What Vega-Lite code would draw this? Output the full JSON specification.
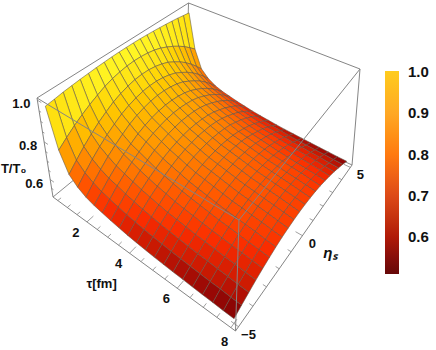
{"$schema":"https://vega.github.io/schema/vega-lite/v6.json","width":436,"height":350,"autosize":"none","padding":0,"background":"white","view":{"stroke":null},"config":{"text":{"font":"Liberation Sans","fontWeight":"bold","fontSize":13,"color":"#111"}},
"data":{"values":[
{"tau":0.4,"eta":5,"T":0.97},{"tau":0.4,"eta":4.5,"T":0.975},{"tau":0.4,"eta":4,"T":0.981},{"tau":0.4,"eta":3.5,"T":0.985},{"tau":0.4,"eta":3,"T":0.989},{"tau":0.4,"eta":2.5,"T":0.992},{"tau":0.4,"eta":2,"T":0.995},{"tau":0.4,"eta":1.5,"T":0.997},{"tau":0.4,"eta":1,"T":0.999},{"tau":0.4,"eta":0.5,"T":1},{"tau":0.4,"eta":0,"T":1},{"tau":0.4,"eta":-0.5,"T":1},{"tau":0.4,"eta":-1,"T":0.999},{"tau":0.4,"eta":-1.5,"T":0.997},{"tau":0.4,"eta":-2,"T":0.995},{"tau":0.4,"eta":-2.5,"T":0.992},{"tau":0.4,"eta":-3,"T":0.989},{"tau":0.4,"eta":-3.5,"T":0.985},{"tau":0.4,"eta":-4,"T":0.981},{"tau":0.4,"eta":-4.5,"T":0.975},{"tau":0.4,"eta":-5,"T":0.97},
{"tau":0.78,"eta":5,"T":0.78},{"tau":0.78,"eta":4.5,"T":0.811},{"tau":0.78,"eta":4,"T":0.84},{"tau":0.78,"eta":3.5,"T":0.865},{"tau":0.78,"eta":3,"T":0.887},{"tau":0.78,"eta":2.5,"T":0.906},{"tau":0.78,"eta":2,"T":0.923},{"tau":0.78,"eta":1.5,"T":0.935},{"tau":0.78,"eta":1,"T":0.943},{"tau":0.78,"eta":0.5,"T":0.948},{"tau":0.78,"eta":0,"T":0.95},{"tau":0.78,"eta":-0.5,"T":0.948},{"tau":0.78,"eta":-1,"T":0.943},{"tau":0.78,"eta":-1.5,"T":0.935},{"tau":0.78,"eta":-2,"T":0.923},{"tau":0.78,"eta":-2.5,"T":0.906},{"tau":0.78,"eta":-3,"T":0.887},{"tau":0.78,"eta":-3.5,"T":0.865},{"tau":0.78,"eta":-4,"T":0.84},{"tau":0.78,"eta":-4.5,"T":0.811},{"tau":0.78,"eta":-5,"T":0.78},
{"tau":1.16,"eta":5,"T":0.68},{"tau":1.16,"eta":4.5,"T":0.72},{"tau":1.16,"eta":4,"T":0.757},{"tau":1.16,"eta":3.5,"T":0.79},{"tau":1.16,"eta":3,"T":0.819},{"tau":1.16,"eta":2.5,"T":0.843},{"tau":1.16,"eta":2,"T":0.865},{"tau":1.16,"eta":1.5,"T":0.88},{"tau":1.16,"eta":1,"T":0.891},{"tau":1.16,"eta":0.5,"T":0.898},{"tau":1.16,"eta":0,"T":0.9},{"tau":1.16,"eta":-0.5,"T":0.898},{"tau":1.16,"eta":-1,"T":0.891},{"tau":1.16,"eta":-1.5,"T":0.88},{"tau":1.16,"eta":-2,"T":0.865},{"tau":1.16,"eta":-2.5,"T":0.843},{"tau":1.16,"eta":-3,"T":0.819},{"tau":1.16,"eta":-3.5,"T":0.79},{"tau":1.16,"eta":-4,"T":0.757},{"tau":1.16,"eta":-4.5,"T":0.72},{"tau":1.16,"eta":-5,"T":0.68},
{"tau":1.54,"eta":5,"T":0.64},{"tau":1.54,"eta":4.5,"T":0.68},{"tau":1.54,"eta":4,"T":0.717},{"tau":1.54,"eta":3.5,"T":0.75},{"tau":1.54,"eta":3,"T":0.779},{"tau":1.54,"eta":2.5,"T":0.803},{"tau":1.54,"eta":2,"T":0.825},{"tau":1.54,"eta":1.5,"T":0.84},{"tau":1.54,"eta":1,"T":0.851},{"tau":1.54,"eta":0.5,"T":0.858},{"tau":1.54,"eta":0,"T":0.86},{"tau":1.54,"eta":-0.5,"T":0.858},{"tau":1.54,"eta":-1,"T":0.851},{"tau":1.54,"eta":-1.5,"T":0.84},{"tau":1.54,"eta":-2,"T":0.825},{"tau":1.54,"eta":-2.5,"T":0.803},{"tau":1.54,"eta":-3,"T":0.779},{"tau":1.54,"eta":-3.5,"T":0.75},{"tau":1.54,"eta":-4,"T":0.717},{"tau":1.54,"eta":-4.5,"T":0.68},{"tau":1.54,"eta":-5,"T":0.64},
{"tau":1.92,"eta":5,"T":0.615},{"tau":1.92,"eta":4.5,"T":0.654},{"tau":1.92,"eta":4,"T":0.69},{"tau":1.92,"eta":3.5,"T":0.723},{"tau":1.92,"eta":3,"T":0.75},{"tau":1.92,"eta":2.5,"T":0.774},{"tau":1.92,"eta":2,"T":0.796},{"tau":1.92,"eta":1.5,"T":0.811},{"tau":1.92,"eta":1,"T":0.821},{"tau":1.92,"eta":0.5,"T":0.828},{"tau":1.92,"eta":0,"T":0.83},{"tau":1.92,"eta":-0.5,"T":0.828},{"tau":1.92,"eta":-1,"T":0.821},{"tau":1.92,"eta":-1.5,"T":0.811},{"tau":1.92,"eta":-2,"T":0.796},{"tau":1.92,"eta":-2.5,"T":0.774},{"tau":1.92,"eta":-3,"T":0.75},{"tau":1.92,"eta":-3.5,"T":0.723},{"tau":1.92,"eta":-4,"T":0.69},{"tau":1.92,"eta":-4.5,"T":0.654},{"tau":1.92,"eta":-5,"T":0.615},
{"tau":2.3,"eta":5,"T":0.6},{"tau":2.3,"eta":4.5,"T":0.636},{"tau":2.3,"eta":4,"T":0.67},{"tau":2.3,"eta":3.5,"T":0.7},{"tau":2.3,"eta":3,"T":0.726},{"tau":2.3,"eta":2.5,"T":0.748},{"tau":2.3,"eta":2,"T":0.768},{"tau":2.3,"eta":1.5,"T":0.782},{"tau":2.3,"eta":1,"T":0.792},{"tau":2.3,"eta":0.5,"T":0.798},{"tau":2.3,"eta":0,"T":0.8},{"tau":2.3,"eta":-0.5,"T":0.798},{"tau":2.3,"eta":-1,"T":0.792},{"tau":2.3,"eta":-1.5,"T":0.782},{"tau":2.3,"eta":-2,"T":0.768},{"tau":2.3,"eta":-2.5,"T":0.748},{"tau":2.3,"eta":-3,"T":0.726},{"tau":2.3,"eta":-3.5,"T":0.7},{"tau":2.3,"eta":-4,"T":0.67},{"tau":2.3,"eta":-4.5,"T":0.636},{"tau":2.3,"eta":-5,"T":0.6},
{"tau":2.68,"eta":5,"T":0.59},{"tau":2.68,"eta":4.5,"T":0.624},{"tau":2.68,"eta":4,"T":0.657},{"tau":2.68,"eta":3.5,"T":0.685},{"tau":2.68,"eta":3,"T":0.71},{"tau":2.68,"eta":2.5,"T":0.731},{"tau":2.68,"eta":2,"T":0.75},{"tau":2.68,"eta":1.5,"T":0.763},{"tau":2.68,"eta":1,"T":0.772},{"tau":2.68,"eta":0.5,"T":0.778},{"tau":2.68,"eta":0,"T":0.78},{"tau":2.68,"eta":-0.5,"T":0.778},{"tau":2.68,"eta":-1,"T":0.772},{"tau":2.68,"eta":-1.5,"T":0.763},{"tau":2.68,"eta":-2,"T":0.75},{"tau":2.68,"eta":-2.5,"T":0.731},{"tau":2.68,"eta":-3,"T":0.71},{"tau":2.68,"eta":-3.5,"T":0.685},{"tau":2.68,"eta":-4,"T":0.657},{"tau":2.68,"eta":-4.5,"T":0.624},{"tau":2.68,"eta":-5,"T":0.59},
{"tau":3.06,"eta":5,"T":0.58},{"tau":3.06,"eta":4.5,"T":0.612},{"tau":3.06,"eta":4,"T":0.643},{"tau":3.06,"eta":3.5,"T":0.67},{"tau":3.06,"eta":3,"T":0.693},{"tau":3.06,"eta":2.5,"T":0.713},{"tau":3.06,"eta":2,"T":0.731},{"tau":3.06,"eta":1.5,"T":0.744},{"tau":3.06,"eta":1,"T":0.753},{"tau":3.06,"eta":0.5,"T":0.758},{"tau":3.06,"eta":0,"T":0.76},{"tau":3.06,"eta":-0.5,"T":0.758},{"tau":3.06,"eta":-1,"T":0.753},{"tau":3.06,"eta":-1.5,"T":0.744},{"tau":3.06,"eta":-2,"T":0.731},{"tau":3.06,"eta":-2.5,"T":0.713},{"tau":3.06,"eta":-3,"T":0.693},{"tau":3.06,"eta":-3.5,"T":0.67},{"tau":3.06,"eta":-4,"T":0.643},{"tau":3.06,"eta":-4.5,"T":0.612},{"tau":3.06,"eta":-5,"T":0.58},
{"tau":3.44,"eta":5,"T":0.572},{"tau":3.44,"eta":4.5,"T":0.602},{"tau":3.44,"eta":4,"T":0.631},{"tau":3.44,"eta":3.5,"T":0.656},{"tau":3.44,"eta":3,"T":0.678},{"tau":3.44,"eta":2.5,"T":0.696},{"tau":3.44,"eta":2,"T":0.713},{"tau":3.44,"eta":1.5,"T":0.725},{"tau":3.44,"eta":1,"T":0.733},{"tau":3.44,"eta":0.5,"T":0.738},{"tau":3.44,"eta":0,"T":0.74},{"tau":3.44,"eta":-0.5,"T":0.738},{"tau":3.44,"eta":-1,"T":0.733},{"tau":3.44,"eta":-1.5,"T":0.725},{"tau":3.44,"eta":-2,"T":0.713},{"tau":3.44,"eta":-2.5,"T":0.696},{"tau":3.44,"eta":-3,"T":0.678},{"tau":3.44,"eta":-3.5,"T":0.656},{"tau":3.44,"eta":-4,"T":0.631},{"tau":3.44,"eta":-4.5,"T":0.602},{"tau":3.44,"eta":-5,"T":0.572},
{"tau":3.82,"eta":5,"T":0.564},{"tau":3.82,"eta":4.5,"T":0.593},{"tau":3.82,"eta":4,"T":0.62},{"tau":3.82,"eta":3.5,"T":0.645},{"tau":3.82,"eta":3,"T":0.665},{"tau":3.82,"eta":2.5,"T":0.683},{"tau":3.82,"eta":2,"T":0.699},{"tau":3.82,"eta":1.5,"T":0.711},{"tau":3.82,"eta":1,"T":0.719},{"tau":3.82,"eta":0.5,"T":0.723},{"tau":3.82,"eta":0,"T":0.725},{"tau":3.82,"eta":-0.5,"T":0.723},{"tau":3.82,"eta":-1,"T":0.719},{"tau":3.82,"eta":-1.5,"T":0.711},{"tau":3.82,"eta":-2,"T":0.699},{"tau":3.82,"eta":-2.5,"T":0.683},{"tau":3.82,"eta":-3,"T":0.665},{"tau":3.82,"eta":-3.5,"T":0.645},{"tau":3.82,"eta":-4,"T":0.62},{"tau":3.82,"eta":-4.5,"T":0.593},{"tau":3.82,"eta":-5,"T":0.564},
{"tau":4.2,"eta":5,"T":0.558},{"tau":4.2,"eta":4.5,"T":0.585},{"tau":4.2,"eta":4,"T":0.611},{"tau":4.2,"eta":3.5,"T":0.634},{"tau":4.2,"eta":3,"T":0.654},{"tau":4.2,"eta":2.5,"T":0.67},{"tau":4.2,"eta":2,"T":0.686},{"tau":4.2,"eta":1.5,"T":0.696},{"tau":4.2,"eta":1,"T":0.704},{"tau":4.2,"eta":0.5,"T":0.708},{"tau":4.2,"eta":0,"T":0.71},{"tau":4.2,"eta":-0.5,"T":0.708},{"tau":4.2,"eta":-1,"T":0.704},{"tau":4.2,"eta":-1.5,"T":0.696},{"tau":4.2,"eta":-2,"T":0.686},{"tau":4.2,"eta":-2.5,"T":0.67},{"tau":4.2,"eta":-3,"T":0.654},{"tau":4.2,"eta":-3.5,"T":0.634},{"tau":4.2,"eta":-4,"T":0.611},{"tau":4.2,"eta":-4.5,"T":0.585},{"tau":4.2,"eta":-5,"T":0.558},
{"tau":4.58,"eta":5,"T":0.553},{"tau":4.58,"eta":4.5,"T":0.579},{"tau":4.58,"eta":4,"T":0.603},{"tau":4.58,"eta":3.5,"T":0.624},{"tau":4.58,"eta":3,"T":0.642},{"tau":4.58,"eta":2.5,"T":0.658},{"tau":4.58,"eta":2,"T":0.672},{"tau":4.58,"eta":1.5,"T":0.682},{"tau":4.58,"eta":1,"T":0.689},{"tau":4.58,"eta":0.5,"T":0.694},{"tau":4.58,"eta":0,"T":0.695},{"tau":4.58,"eta":-0.5,"T":0.694},{"tau":4.58,"eta":-1,"T":0.689},{"tau":4.58,"eta":-1.5,"T":0.682},{"tau":4.58,"eta":-2,"T":0.672},{"tau":4.58,"eta":-2.5,"T":0.658},{"tau":4.58,"eta":-3,"T":0.642},{"tau":4.58,"eta":-3.5,"T":0.624},{"tau":4.58,"eta":-4,"T":0.603},{"tau":4.58,"eta":-4.5,"T":0.579},{"tau":4.58,"eta":-5,"T":0.553},
{"tau":4.96,"eta":5,"T":0.548},{"tau":4.96,"eta":4.5,"T":0.573},{"tau":4.96,"eta":4,"T":0.596},{"tau":4.96,"eta":3.5,"T":0.617},{"tau":4.96,"eta":3,"T":0.634},{"tau":4.96,"eta":2.5,"T":0.649},{"tau":4.96,"eta":2,"T":0.663},{"tau":4.96,"eta":1.5,"T":0.673},{"tau":4.96,"eta":1,"T":0.68},{"tau":4.96,"eta":0.5,"T":0.684},{"tau":4.96,"eta":0,"T":0.685},{"tau":4.96,"eta":-0.5,"T":0.684},{"tau":4.96,"eta":-1,"T":0.68},{"tau":4.96,"eta":-1.5,"T":0.673},{"tau":4.96,"eta":-2,"T":0.663},{"tau":4.96,"eta":-2.5,"T":0.649},{"tau":4.96,"eta":-3,"T":0.634},{"tau":4.96,"eta":-3.5,"T":0.617},{"tau":4.96,"eta":-4,"T":0.596},{"tau":4.96,"eta":-4.5,"T":0.573},{"tau":4.96,"eta":-5,"T":0.548},
{"tau":5.34,"eta":5,"T":0.544},{"tau":5.34,"eta":4.5,"T":0.568},{"tau":5.34,"eta":4,"T":0.59},{"tau":5.34,"eta":3.5,"T":0.61},{"tau":5.34,"eta":3,"T":0.627},{"tau":5.34,"eta":2.5,"T":0.641},{"tau":5.34,"eta":2,"T":0.654},{"tau":5.34,"eta":1.5,"T":0.663},{"tau":5.34,"eta":1,"T":0.67},{"tau":5.34,"eta":0.5,"T":0.674},{"tau":5.34,"eta":0,"T":0.675},{"tau":5.34,"eta":-0.5,"T":0.674},{"tau":5.34,"eta":-1,"T":0.67},{"tau":5.34,"eta":-1.5,"T":0.663},{"tau":5.34,"eta":-2,"T":0.654},{"tau":5.34,"eta":-2.5,"T":0.641},{"tau":5.34,"eta":-3,"T":0.627},{"tau":5.34,"eta":-3.5,"T":0.61},{"tau":5.34,"eta":-4,"T":0.59},{"tau":5.34,"eta":-4.5,"T":0.568},{"tau":5.34,"eta":-5,"T":0.544},
{"tau":5.72,"eta":5,"T":0.541},{"tau":5.72,"eta":4.5,"T":0.563},{"tau":5.72,"eta":4,"T":0.584},{"tau":5.72,"eta":3.5,"T":0.603},{"tau":5.72,"eta":3,"T":0.619},{"tau":5.72,"eta":2.5,"T":0.633},{"tau":5.72,"eta":2,"T":0.645},{"tau":5.72,"eta":1.5,"T":0.654},{"tau":5.72,"eta":1,"T":0.66},{"tau":5.72,"eta":0.5,"T":0.664},{"tau":5.72,"eta":0,"T":0.665},{"tau":5.72,"eta":-0.5,"T":0.664},{"tau":5.72,"eta":-1,"T":0.66},{"tau":5.72,"eta":-1.5,"T":0.654},{"tau":5.72,"eta":-2,"T":0.645},{"tau":5.72,"eta":-2.5,"T":0.633},{"tau":5.72,"eta":-3,"T":0.619},{"tau":5.72,"eta":-3.5,"T":0.603},{"tau":5.72,"eta":-4,"T":0.584},{"tau":5.72,"eta":-4.5,"T":0.563},{"tau":5.72,"eta":-5,"T":0.541},
{"tau":6.1,"eta":5,"T":0.538},{"tau":6.1,"eta":4.5,"T":0.559},{"tau":6.1,"eta":4,"T":0.579},{"tau":6.1,"eta":3.5,"T":0.597},{"tau":6.1,"eta":3,"T":0.612},{"tau":6.1,"eta":2.5,"T":0.625},{"tau":6.1,"eta":2,"T":0.636},{"tau":6.1,"eta":1.5,"T":0.644},{"tau":6.1,"eta":1,"T":0.65},{"tau":6.1,"eta":0.5,"T":0.654},{"tau":6.1,"eta":0,"T":0.655},{"tau":6.1,"eta":-0.5,"T":0.654},{"tau":6.1,"eta":-1,"T":0.65},{"tau":6.1,"eta":-1.5,"T":0.644},{"tau":6.1,"eta":-2,"T":0.636},{"tau":6.1,"eta":-2.5,"T":0.625},{"tau":6.1,"eta":-3,"T":0.612},{"tau":6.1,"eta":-3.5,"T":0.597},{"tau":6.1,"eta":-4,"T":0.579},{"tau":6.1,"eta":-4.5,"T":0.559},{"tau":6.1,"eta":-5,"T":0.538},
{"tau":6.48,"eta":5,"T":0.535},{"tau":6.48,"eta":4.5,"T":0.555},{"tau":6.48,"eta":4,"T":0.575},{"tau":6.48,"eta":3.5,"T":0.592},{"tau":6.48,"eta":3,"T":0.606},{"tau":6.48,"eta":2.5,"T":0.619},{"tau":6.48,"eta":2,"T":0.63},{"tau":6.48,"eta":1.5,"T":0.638},{"tau":6.48,"eta":1,"T":0.643},{"tau":6.48,"eta":0.5,"T":0.647},{"tau":6.48,"eta":0,"T":0.648},{"tau":6.48,"eta":-0.5,"T":0.647},{"tau":6.48,"eta":-1,"T":0.643},{"tau":6.48,"eta":-1.5,"T":0.638},{"tau":6.48,"eta":-2,"T":0.63},{"tau":6.48,"eta":-2.5,"T":0.619},{"tau":6.48,"eta":-3,"T":0.606},{"tau":6.48,"eta":-3.5,"T":0.592},{"tau":6.48,"eta":-4,"T":0.575},{"tau":6.48,"eta":-4.5,"T":0.555},{"tau":6.48,"eta":-5,"T":0.535},
{"tau":6.86,"eta":5,"T":0.532},{"tau":6.86,"eta":4.5,"T":0.551},{"tau":6.86,"eta":4,"T":0.57},{"tau":6.86,"eta":3.5,"T":0.586},{"tau":6.86,"eta":3,"T":0.6},{"tau":6.86,"eta":2.5,"T":0.612},{"tau":6.86,"eta":2,"T":0.623},{"tau":6.86,"eta":1.5,"T":0.63},{"tau":6.86,"eta":1,"T":0.636},{"tau":6.86,"eta":0.5,"T":0.639},{"tau":6.86,"eta":0,"T":0.64},{"tau":6.86,"eta":-0.5,"T":0.639},{"tau":6.86,"eta":-1,"T":0.636},{"tau":6.86,"eta":-1.5,"T":0.63},{"tau":6.86,"eta":-2,"T":0.623},{"tau":6.86,"eta":-2.5,"T":0.612},{"tau":6.86,"eta":-3,"T":0.6},{"tau":6.86,"eta":-3.5,"T":0.586},{"tau":6.86,"eta":-4,"T":0.57},{"tau":6.86,"eta":-4.5,"T":0.551},{"tau":6.86,"eta":-5,"T":0.532},
{"tau":7.24,"eta":5,"T":0.53},{"tau":7.24,"eta":4.5,"T":0.549},{"tau":7.24,"eta":4,"T":0.566},{"tau":7.24,"eta":3.5,"T":0.582},{"tau":7.24,"eta":3,"T":0.595},{"tau":7.24,"eta":2.5,"T":0.606},{"tau":7.24,"eta":2,"T":0.617},{"tau":7.24,"eta":1.5,"T":0.624},{"tau":7.24,"eta":1,"T":0.629},{"tau":7.24,"eta":0.5,"T":0.632},{"tau":7.24,"eta":0,"T":0.633},{"tau":7.24,"eta":-0.5,"T":0.632},{"tau":7.24,"eta":-1,"T":0.629},{"tau":7.24,"eta":-1.5,"T":0.624},{"tau":7.24,"eta":-2,"T":0.617},{"tau":7.24,"eta":-2.5,"T":0.606},{"tau":7.24,"eta":-3,"T":0.595},{"tau":7.24,"eta":-3.5,"T":0.582},{"tau":7.24,"eta":-4,"T":0.566},{"tau":7.24,"eta":-4.5,"T":0.549},{"tau":7.24,"eta":-5,"T":0.53},
{"tau":7.62,"eta":5,"T":0.527},{"tau":7.62,"eta":4.5,"T":0.545},{"tau":7.62,"eta":4,"T":0.561},{"tau":7.62,"eta":3.5,"T":0.576},{"tau":7.62,"eta":3,"T":0.589},{"tau":7.62,"eta":2.5,"T":0.6},{"tau":7.62,"eta":2,"T":0.609},{"tau":7.62,"eta":1.5,"T":0.616},{"tau":7.62,"eta":1,"T":0.621},{"tau":7.62,"eta":0.5,"T":0.624},{"tau":7.62,"eta":0,"T":0.625},{"tau":7.62,"eta":-0.5,"T":0.624},{"tau":7.62,"eta":-1,"T":0.621},{"tau":7.62,"eta":-1.5,"T":0.616},{"tau":7.62,"eta":-2,"T":0.609},{"tau":7.62,"eta":-2.5,"T":0.6},{"tau":7.62,"eta":-3,"T":0.589},{"tau":7.62,"eta":-3.5,"T":0.576},{"tau":7.62,"eta":-4,"T":0.561},{"tau":7.62,"eta":-4.5,"T":0.545},{"tau":7.62,"eta":-5,"T":0.527},
{"tau":8,"eta":5,"T":0.525},{"tau":8,"eta":4.5,"T":0.542},{"tau":8,"eta":4,"T":0.557},{"tau":8,"eta":3.5,"T":0.571},{"tau":8,"eta":3,"T":0.583},{"tau":8,"eta":2.5,"T":0.593},{"tau":8,"eta":2,"T":0.602},{"tau":8,"eta":1.5,"T":0.609},{"tau":8,"eta":1,"T":0.613},{"tau":8,"eta":0.5,"T":0.616},{"tau":8,"eta":0,"T":0.617},{"tau":8,"eta":-0.5,"T":0.616},{"tau":8,"eta":-1,"T":0.613},{"tau":8,"eta":-1.5,"T":0.609},{"tau":8,"eta":-2,"T":0.602},{"tau":8,"eta":-2.5,"T":0.593},{"tau":8,"eta":-3,"T":0.583},{"tau":8,"eta":-3.5,"T":0.571},{"tau":8,"eta":-4,"T":0.557},{"tau":8,"eta":-4.5,"T":0.542},{"tau":8,"eta":-5,"T":0.525},
{"part":"g","id":"h","n":0,"tau":0.24,"eta":-5.2,"T":0.5},{"part":"g","id":"h","n":1,"tau":0.24,"eta":5.2,"T":0.5},{"part":"g","id":"h","n":2,"tau":8.16,"eta":5.2,"T":0.5},{"part":"g","id":"i","n":0,"tau":0.24,"eta":5.2,"T":0.5},{"part":"g","id":"i","n":1,"tau":0.24,"eta":5.2,"T":1.01},
{"part":"f","id":"a","n":0,"tau":0.24,"eta":-5.2,"T":1.01},{"part":"f","id":"a","n":1,"tau":0.24,"eta":5.2,"T":1.01},{"part":"f","id":"a","n":2,"tau":8.16,"eta":5.2,"T":1.01},{"part":"f","id":"a","n":3,"tau":8.16,"eta":-5.2,"T":1.01},{"part":"f","id":"a","n":4,"tau":0.24,"eta":-5.2,"T":1.01},
{"part":"f","id":"b","n":0,"tau":0.24,"eta":-5.2,"T":0.5},{"part":"f","id":"b","n":1,"tau":0.24,"eta":-5.2,"T":1.01},{"part":"f","id":"c","n":0,"tau":8.16,"eta":-5.2,"T":0.5},{"part":"f","id":"c","n":1,"tau":8.16,"eta":-5.2,"T":1.01},{"part":"f","id":"d","n":0,"tau":8.16,"eta":5.2,"T":0.5},{"part":"f","id":"d","n":1,"tau":8.16,"eta":5.2,"T":1.01},
{"part":"f","id":"e","n":0,"tau":0.24,"eta":-5.2,"T":0.5},{"part":"f","id":"e","n":1,"tau":8.16,"eta":-5.2,"T":0.5},{"part":"f","id":"e","n":2,"tau":8.16,"eta":5.2,"T":0.5},
{"part":"t","id":"t1","n":0,"tau":0.5,"eta":-5.2,"T":0.5},{"part":"t","id":"t1","n":1,"tau":0.5,"eta":-5,"T":0.5},{"part":"t","id":"t2","n":0,"tau":1,"eta":-5.2,"T":0.5},{"part":"t","id":"t2","n":1,"tau":1,"eta":-5,"T":0.5},{"part":"t","id":"t3","n":0,"tau":1.5,"eta":-5.2,"T":0.5},{"part":"t","id":"t3","n":1,"tau":1.5,"eta":-5,"T":0.5},{"part":"t","id":"t4","n":0,"tau":2,"eta":-5.2,"T":0.5},{"part":"t","id":"t4","n":1,"tau":2,"eta":-4.8,"T":0.5},{"part":"t","id":"t5","n":0,"tau":2.5,"eta":-5.2,"T":0.5},{"part":"t","id":"t5","n":1,"tau":2.5,"eta":-5,"T":0.5},{"part":"t","id":"t6","n":0,"tau":3,"eta":-5.2,"T":0.5},{"part":"t","id":"t6","n":1,"tau":3,"eta":-5,"T":0.5},{"part":"t","id":"t7","n":0,"tau":3.5,"eta":-5.2,"T":0.5},{"part":"t","id":"t7","n":1,"tau":3.5,"eta":-5,"T":0.5},{"part":"t","id":"t8","n":0,"tau":4,"eta":-5.2,"T":0.5},{"part":"t","id":"t8","n":1,"tau":4,"eta":-4.8,"T":0.5},{"part":"t","id":"t9","n":0,"tau":4.5,"eta":-5.2,"T":0.5},{"part":"t","id":"t9","n":1,"tau":4.5,"eta":-5,"T":0.5},{"part":"t","id":"t10","n":0,"tau":5,"eta":-5.2,"T":0.5},{"part":"t","id":"t10","n":1,"tau":5,"eta":-5,"T":0.5},{"part":"t","id":"t11","n":0,"tau":5.5,"eta":-5.2,"T":0.5},{"part":"t","id":"t11","n":1,"tau":5.5,"eta":-5,"T":0.5},{"part":"t","id":"t12","n":0,"tau":6,"eta":-5.2,"T":0.5},{"part":"t","id":"t12","n":1,"tau":6,"eta":-4.8,"T":0.5},{"part":"t","id":"t13","n":0,"tau":6.5,"eta":-5.2,"T":0.5},{"part":"t","id":"t13","n":1,"tau":6.5,"eta":-5,"T":0.5},{"part":"t","id":"t14","n":0,"tau":7,"eta":-5.2,"T":0.5},{"part":"t","id":"t14","n":1,"tau":7,"eta":-5,"T":0.5},{"part":"t","id":"t15","n":0,"tau":7.5,"eta":-5.2,"T":0.5},{"part":"t","id":"t15","n":1,"tau":7.5,"eta":-5,"T":0.5},{"part":"t","id":"t16","n":0,"tau":8,"eta":-5.2,"T":0.5},{"part":"t","id":"t16","n":1,"tau":8,"eta":-4.8,"T":0.5},
{"part":"t","id":"e1","n":0,"tau":8.16,"eta":-5,"T":0.5},{"part":"t","id":"e1","n":1,"tau":7.9,"eta":-5,"T":0.5},{"part":"t","id":"e2","n":0,"tau":8.16,"eta":-4,"T":0.5},{"part":"t","id":"e2","n":1,"tau":8.03,"eta":-4,"T":0.5},{"part":"t","id":"e3","n":0,"tau":8.16,"eta":-3,"T":0.5},{"part":"t","id":"e3","n":1,"tau":8.03,"eta":-3,"T":0.5},{"part":"t","id":"e4","n":0,"tau":8.16,"eta":-2,"T":0.5},{"part":"t","id":"e4","n":1,"tau":8.03,"eta":-2,"T":0.5},{"part":"t","id":"e5","n":0,"tau":8.16,"eta":-1,"T":0.5},{"part":"t","id":"e5","n":1,"tau":8.03,"eta":-1,"T":0.5},{"part":"t","id":"e6","n":0,"tau":8.16,"eta":0,"T":0.5},{"part":"t","id":"e6","n":1,"tau":7.9,"eta":0,"T":0.5},{"part":"t","id":"e7","n":0,"tau":8.16,"eta":1,"T":0.5},{"part":"t","id":"e7","n":1,"tau":8.03,"eta":1,"T":0.5},{"part":"t","id":"e8","n":0,"tau":8.16,"eta":2,"T":0.5},{"part":"t","id":"e8","n":1,"tau":8.03,"eta":2,"T":0.5},{"part":"t","id":"e9","n":0,"tau":8.16,"eta":3,"T":0.5},{"part":"t","id":"e9","n":1,"tau":8.03,"eta":3,"T":0.5},{"part":"t","id":"e10","n":0,"tau":8.16,"eta":4,"T":0.5},{"part":"t","id":"e10","n":1,"tau":8.03,"eta":4,"T":0.5},{"part":"t","id":"e11","n":0,"tau":8.16,"eta":5,"T":0.5},{"part":"t","id":"e11","n":1,"tau":7.9,"eta":5,"T":0.5},
{"part":"t","id":"z1","n":0,"tau":0.24,"eta":-5.2,"T":0.55},{"part":"t","id":"z1","n":1,"tau":0.34,"eta":-5.2,"T":0.55},{"part":"t","id":"z2","n":0,"tau":0.24,"eta":-5.2,"T":0.6},{"part":"t","id":"z2","n":1,"tau":0.44,"eta":-5.2,"T":0.6},{"part":"t","id":"z3","n":0,"tau":0.24,"eta":-5.2,"T":0.65},{"part":"t","id":"z3","n":1,"tau":0.34,"eta":-5.2,"T":0.65},{"part":"t","id":"z4","n":0,"tau":0.24,"eta":-5.2,"T":0.7},{"part":"t","id":"z4","n":1,"tau":0.34,"eta":-5.2,"T":0.7},{"part":"t","id":"z5","n":0,"tau":0.24,"eta":-5.2,"T":0.75},{"part":"t","id":"z5","n":1,"tau":0.34,"eta":-5.2,"T":0.75},{"part":"t","id":"z6","n":0,"tau":0.24,"eta":-5.2,"T":0.8},{"part":"t","id":"z6","n":1,"tau":0.44,"eta":-5.2,"T":0.8},{"part":"t","id":"z7","n":0,"tau":0.24,"eta":-5.2,"T":0.85},{"part":"t","id":"z7","n":1,"tau":0.34,"eta":-5.2,"T":0.85},{"part":"t","id":"z8","n":0,"tau":0.24,"eta":-5.2,"T":0.9},{"part":"t","id":"z8","n":1,"tau":0.34,"eta":-5.2,"T":0.9},{"part":"t","id":"z9","n":0,"tau":0.24,"eta":-5.2,"T":0.95},{"part":"t","id":"z9","n":1,"tau":0.34,"eta":-5.2,"T":0.95},{"part":"t","id":"z10","n":0,"tau":0.24,"eta":-5.2,"T":1},{"part":"t","id":"z10","n":1,"tau":0.44,"eta":-5.2,"T":1},
{"part":"lt","tau":2,"eta":-5.2,"T":0.5,"txt":"2"},{"part":"lt","tau":4,"eta":-5.2,"T":0.5,"txt":"4"},{"part":"lt","tau":6,"eta":-5.2,"T":0.5,"txt":"6"},{"part":"lt","tau":8.16,"eta":-5.2,"T":0.5,"txt":"8"},
{"part":"le","tau":8.16,"eta":-5,"T":0.5,"txt":"−5"},{"part":"le","tau":8.16,"eta":0,"T":0.5,"txt":"0"},{"part":"le","tau":8.16,"eta":5,"T":0.5,"txt":"5"},
{"part":"lz","tau":0.24,"eta":-5.2,"T":0.6,"txt":"0.6"},{"part":"lz","tau":0.24,"eta":-5.2,"T":0.8,"txt":"0.8"},{"part":"lz","tau":0.24,"eta":-5.2,"T":1,"txt":"1.0"},
{"part":"tt","tau":4,"eta":-5.2,"T":0.5,"txt":"τ[fm]"},{"part":"te","tau":8.16,"eta":0,"T":0.5,"txt":"ηₛ"},{"part":"tz","tau":0.24,"eta":-5.2,"T":0.72,"txt":"T/T₀"}
]},
"transform":[
{"calculate":"(datum.tau-0.24)/7.92","as":"u"},{"calculate":"(datum.eta+5.2)/10.4","as":"v"},{"calculate":"(datum.T-0.5)/0.51","as":"w"},
{"calculate":"1-0.2*datum.u+0.28*datum.v-0.12*datum.w","as":"D"},
{"calculate":"((1-datum.u)*(1-datum.v)*((1-datum.w)*53+datum.w*32.56)+datum.u*(1-datum.v)*((1-datum.w)*188.4+datum.w*162.5)+(1-datum.u)*datum.v*((1-datum.w)*238.1+datum.w*218.7)+datum.u*datum.v*((1-datum.w)*380.2+datum.w*345.6))/datum.D","as":"sx"},
{"calculate":"((1-datum.u)*(1-datum.v)*((1-datum.w)*197+datum.w*86.24)+datum.u*(1-datum.v)*((1-datum.w)*264.8+datum.w*149.6)+(1-datum.u)*datum.v*((1-datum.w)*112.6+datum.w*3.48)+datum.u*datum.v*((1-datum.w)*178.2+datum.w*66.24))/datum.D","as":"sy"}
],
"encoding":{"x":{"field":"sx","type":"quantitative","axis":null,"scale":{"domain":[0,436],"nice":false,"zero":false}},"y":{"field":"sy","type":"quantitative","axis":null,"scale":{"domain":[0,350],"nice":false,"zero":false,"reverse":true}}},
"layer":[
{"transform":[{"filter":"datum.part=='g'"}],"mark":{"type":"line","stroke":"#8c8c8c","strokeWidth":1},"encoding":{"detail":{"field":"id"},"order":{"field":"n","type":"quantitative"}}},
{"transform":[{"filter":"!datum.part"},{"calculate":"round((datum.tau-0.4)/0.38)","as":"i"},{"calculate":"round((datum.eta+5)/0.5)","as":"j"},{"calculate":"[0,0,1,1,0]","as":"di"},{"calculate":"[0,0,0,1,1]","as":"dj"},{"calculate":"[0,4,1,2,3]","as":"o"},{"flatten":["di","dj","o"]},{"calculate":"datum.i-datum.di","as":"I"},{"calculate":"datum.j-datum.dj","as":"J"},{"filter":"datum.I>=0&&datum.I<20&&datum.J>=0&&datum.J<20"},{"calculate":"datum.I*100+datum.J","as":"c"},{"joinaggregate":[{"op":"mean","field":"T","as":"mT"}],"groupby":["c"]}],
"mark":{"type":"line","stroke":"#5f5548","strokeWidth":0.7,"strokeOpacity":0.8,"strokeJoin":"round"},
"encoding":{"detail":{"field":"c"},"order":{"field":"o","type":"quantitative"},"fill":{"field":"mT","type":"quantitative","legend":null,"scale":{"domain":[0.525,0.56,0.6,0.65,0.72,0.8,0.9,1],"range":["#7a0202","#c81802","#fa2c00","#ff5600","#ff8a00","#ffb400","#ffe010","#fffa28"]}}}},
{"transform":[{"filter":"datum.part=='f'"}],"mark":{"type":"line","stroke":"#858585","strokeWidth":1},"encoding":{"detail":{"field":"id"},"order":{"field":"n","type":"quantitative"}}},
{"transform":[{"filter":"datum.part=='t'"}],"mark":{"type":"line","stroke":"#777777","strokeWidth":0.7},"encoding":{"detail":{"field":"id"},"order":{"field":"n","type":"quantitative"}}},
{"transform":[{"filter":"datum.part=='lt'"}],"mark":{"type":"text","dx":-11,"dy":11},"encoding":{"text":{"field":"txt"}}},
{"transform":[{"filter":"datum.part=='le'"}],"mark":{"type":"text","dx":10,"dy":8},"encoding":{"text":{"field":"txt"}}},
{"transform":[{"filter":"datum.part=='lz'"}],"mark":{"type":"text","dx":-16,"dy":4},"encoding":{"text":{"field":"txt"}}},
{"transform":[{"filter":"datum.part=='tt'"}],"mark":{"type":"text","dx":-28,"dy":31},"encoding":{"text":{"field":"txt"}}},
{"transform":[{"filter":"datum.part=='te'"}],"mark":{"type":"text","dx":28,"dy":17,"fontStyle":"italic","fontSize":15},"encoding":{"text":{"field":"txt"}}},
{"transform":[{"filter":"datum.part=='tz'"}],"mark":{"type":"text","dx":-33,"dy":12},"encoding":{"text":{"field":"txt"}}},
{"transform":[{"filter":"datum.tau==8&&datum.eta==0"}],"mark":{"type":"point","opacity":0,"size":1},"encoding":{"color":{"field":"T","type":"quantitative","scale":{"domain":[0.51,0.6,0.7,0.8,0.9,1.003],"range":["#660808","#b01a08","#dd4a18","#ff7a10","#ffa825","#ffcc1e"]},"legend":{"orient":"none","legendX":385,"legendY":71,"title":null,"values":[0.6,0.7,0.8,0.9,1],"format":".1f","gradientLength":203,"gradientThickness":14,"labelFont":"Liberation Sans","labelFontWeight":"bold","labelFontSize":15,"labelColor":"#111","labelOffset":9,"labelOverlap":false,"gradientStrokeWidth":0}}}}
]}
